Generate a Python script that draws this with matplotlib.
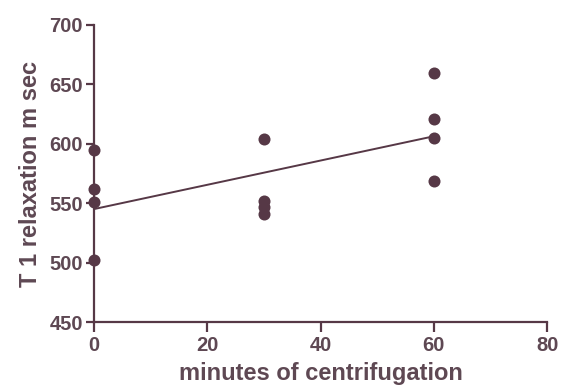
import numpy as np
import matplotlib.pyplot as plt

plt.rcParams['font.family'] = ['Liberation Sans', 'DejaVu Sans']

minutes = [0, 0, 0, 0, 30, 30, 30, 30, 60, 60, 60, 60]
t1 = [595, 562, 551, 502, 604, 552, 547, 541, 660, 621, 605, 569]

ink = '#563846'
text_ink = '#5e4853'

coef = np.polyfit(minutes, t1, 1)
fit = np.poly1d(coef)
xs = np.array([0, 60])

fig = plt.figure(figsize=(5.63, 3.9), dpi=100)
ax = fig.add_axes([0.167, 0.174, 0.805, 0.762])

ax.scatter(minutes, t1, s=75, color=ink, zorder=3, clip_on=False, linewidths=0)
ax.plot(xs, fit(xs), color=ink, lw=1.4, zorder=2)

ax.set_xlim(0, 80)
ax.set_ylim(450, 700)
ax.set_xticks([0, 20, 40, 60, 80])
ax.set_yticks([450, 500, 550, 600, 650, 700])

for s in ['top', 'right']:
    ax.spines[s].set_visible(False)
for s in ['left', 'bottom']:
    ax.spines[s].set_color(ink)
    ax.spines[s].set_linewidth(1.6)

ax.tick_params(direction='out', length=6, width=1.6, color=ink,
               labelsize=14.5, labelcolor=text_ink, pad=2)
ax.tick_params(axis='x', length=7, pad=3)
for lab in ax.get_xticklabels() + ax.get_yticklabels():
    lab.set_fontweight('bold')

ax.set_xlabel('minutes of centrifugation', fontsize=17, fontweight='bold',
              color=text_ink, labelpad=5)
ax.set_ylabel('T 1 relaxation m sec', fontsize=17, fontweight='bold',
              color=text_ink, labelpad=5)

fig.savefig('out.png', dpi=100)
